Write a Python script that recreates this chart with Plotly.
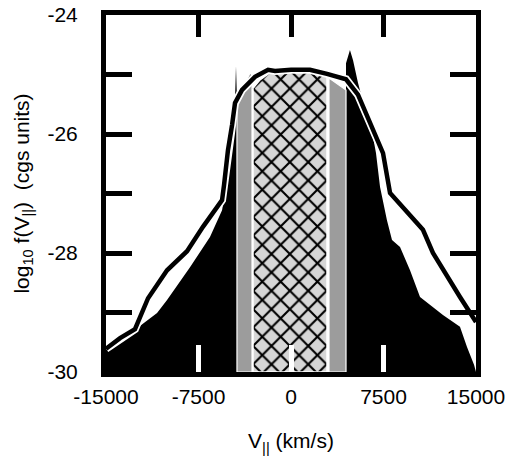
import plotly.graph_objects as go

# ---- data ----
# outer black distribution (left wing up to spike, then right wing from spike)
fill_left_x = [-15000, -14030, -12650, -10860, -10050, -8190, -6570, -5590, -5350, -4950, -4620, -4540, -4460, -4380]
fill_left_y = [-29.60, -29.46, -29.29, -29.01, -28.79, -28.24, -27.73, -27.28, -26.99, -26.15, -25.60, -25.43, -24.86, -25.43]
fill_right_x = [4460, 4460, 4780, 5030, 5430, 6160, 6650, 6890, 7220, 7780, 8190, 8840, 9650, 10460, 11510, 12320, 13700, 14270, 14840, 15000]
fill_right_y = [-30.0, -24.81, -24.59, -24.76, -25.14, -25.71, -26.05, -26.32, -26.89, -27.45, -27.78, -27.90, -28.29, -28.74, -28.91, -29.04, -29.24, -29.58, -29.88, -30.0]

# grey bands
grey_left_x = [-4380, -3320, -3160]
grey_left_y = [-25.46, -24.97, -25.01]
grey_right_x = [3080, 4460]
grey_right_y = [-25.06, -25.26]

# cross-hatched core
hatch_x = [-3080, -2510, -1700, 0, 1540, 2920]
hatch_y = [-25.23, -25.09, -24.97, -24.96, -24.96, -25.03]

# model curve
line_x = [-15000, -13860, -12650, -11590, -10050, -8430, -7140, -6000, -5590, -5430, -5110, -4780, -4540,
          -3970, -2920, -1860, -1300, 0, 1540, 2920, 4460, 5430, 6410, 7460, 8030, 9080, 10700, 11510,
          12650, 13700, 15000]
line_y = [-29.61, -29.43, -29.28, -28.76, -28.29, -27.97, -27.56, -27.23, -27.11, -26.86, -26.27, -25.85, -25.48,
          -25.26, -25.04, -24.92, -24.94, -24.92, -24.92, -24.99, -25.08, -25.34, -25.82, -26.32, -26.99, -27.23,
          -27.61, -28.00, -28.40, -28.74, -29.16]

x_ticks = [-15000, -7500, 0, 7500, 15000]
x_inner_ticks = [-7500, 0, 7500]
y_ticks = [-30, -28, -26, -24]

YMIN, YMAX = -30, -24
XMIN, XMAX = -15000, 15000


def closed(xs, ys):
    """close a top boundary down to the bottom of the axis"""
    return ([xs[0]] + xs + [xs[-1], xs[0]], [YMIN] + ys + [YMIN, YMIN])


fig = go.Figure()

# black distribution
bx = [XMIN] + fill_left_x + [fill_left_x[-1]] + fill_right_x + [XMIN]
by = [YMIN] + fill_left_y + [YMIN] + fill_right_y + [YMIN]
fig.add_trace(go.Scatter(x=bx, y=by, fill="toself", fillcolor="black", mode="lines",
                         line=dict(color="black", width=0), hoverinfo="skip"))

for gx, gy in [(grey_left_x, grey_left_y), (grey_right_x, grey_right_y)]:
    px, py = closed(gx, gy)
    fig.add_trace(go.Scatter(x=px, y=py, fill="toself", fillcolor="#9c9c9c", mode="lines",
                             line=dict(color="white", width=1.2), hoverinfo="skip"))

hx, hy = closed(hatch_x, hatch_y)
fig.add_trace(go.Scatter(x=hx, y=hy, fill="toself", fillcolor="#d6d6d6", mode="lines",
                         fillpattern=dict(shape="x", fgcolor="#000000", fgopacity=1,
                                          bgcolor="#d6d6d6", size=13, solidity=0.3),
                         line=dict(color="white", width=1.5), hoverinfo="skip"))

# curve with white halo
fig.add_trace(go.Scatter(x=line_x, y=line_y, mode="lines", xaxis="x2",
                         line=dict(color="white", width=8), hoverinfo="skip"))
fig.add_trace(go.Scatter(x=line_x, y=line_y, mode="lines", xaxis="x3",
                         line=dict(color="black", width=4.5), hoverinfo="skip"))

font = dict(family="Liberation Sans, Arial, sans-serif", size=21, color="black")

fig.update_layout(
    width=509, height=458,
    margin=dict(l=106, r=33, t=15, b=86),
    paper_bgcolor="white", plot_bgcolor="white",
    showlegend=False,
    font=font,
    xaxis=dict(range=[XMIN, XMAX], tickvals=x_ticks, ticktext=[str(v) for v in x_ticks],
               ticks="", showgrid=False, zeroline=False, automargin=False,
               showline=True, linecolor="black", linewidth=5, mirror=True,
               ticklabelstandoff=2,
               title=dict(text="V<sub>||</sub> (km/s)", font=font, standoff=28)),
    xaxis2=dict(range=[XMIN, XMAX], overlaying="x", side="bottom", anchor="y", automargin=False,
                tickvals=x_inner_ticks, showticklabels=False, ticks="inside",
                ticklen=27, tickwidth=5, tickcolor="white",
                showgrid=False, zeroline=False, showline=False),
    xaxis3=dict(range=[XMIN, XMAX], overlaying="x", side="top", anchor="y", automargin=False,
                tickvals=x_inner_ticks, showticklabels=False, ticks="inside",
                ticklen=22, tickwidth=5, tickcolor="black",
                showgrid=False, zeroline=False, showline=False),
    yaxis=dict(range=[YMIN, YMAX], tickvals=y_ticks, ticktext=[str(v) for v in y_ticks],
               ticks="inside", ticklen=26, tickwidth=5, tickcolor="black",
               minor=dict(dtick=1, tick0=-30, ticks="inside", ticklen=26, tickwidth=5, tickcolor="black"),
               showgrid=False, zeroline=False, automargin=False,
               showline=True, linecolor="black", linewidth=5, mirror="ticks",
               ticklabelstandoff=19,
               title=dict(text="log<sub>10</sub> f(V<sub>||</sub>)  (cgs units)", font=font, standoff=14)),
)

fig.write_html("out.html")
